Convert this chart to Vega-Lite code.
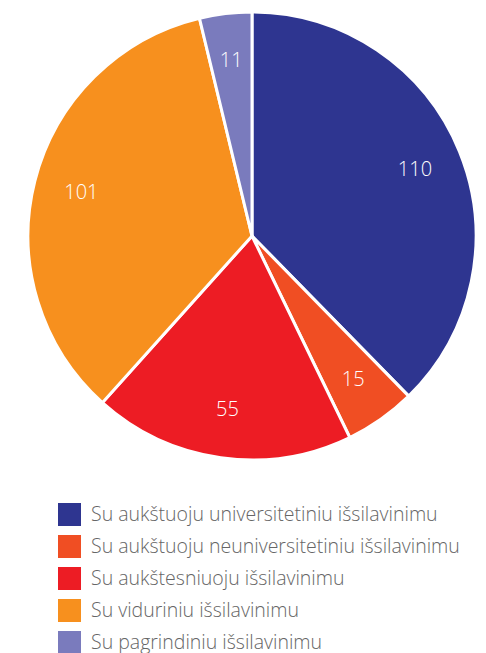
{
  "$schema": "https://vega.github.io/schema/vega-lite/v6.json",
  "width": 504,
  "height": 472,
  "padding": 0,
  "autosize": "pad",
  "background": "white",
  "data": {"values": [
    {"cat": "Su aukštuoju universitetiniu išsilavinimu", "value": 110, "ord": 1},
    {"cat": "Su aukštuoju neuniversitetiniu išsilavinimu", "value": 15, "ord": 2},
    {"cat": "Su aukštesniuoju išsilavinimu", "value": 55, "ord": 3},
    {"cat": "Su viduriniu išsilavinimu", "value": 101, "ord": 4},
    {"cat": "Su pagrindiniu išsilavinimu", "value": 11, "ord": 5}
  ]},
  "encoding": {
    "theta": {"field": "value", "type": "quantitative", "stack": true},
    "order": {"field": "ord", "type": "quantitative"}
  },
  "view": {"stroke": null},
  "layer": [
    {
      "mark": {"type": "arc", "outerRadius": 224, "stroke": "white", "strokeWidth": 3},
      "encoding": {
        "color": {
          "field": "cat", "type": "nominal",
          "scale": {
            "domain": ["Su aukštuoju universitetiniu išsilavinimu", "Su aukštuoju neuniversitetiniu išsilavinimu", "Su aukštesniuoju išsilavinimu", "Su viduriniu išsilavinimu", "Su pagrindiniu išsilavinimu"],
            "range": ["#2e3590", "#f04e23", "#ed1c24", "#f7901e", "#7a7bbd"]
          },
          "legend": {
            "title": null,
            "orient": "none",
            "legendX": 58,
            "legendY": 503,
            "direction": "vertical",
            "symbolType": "square",
            "symbolSize": 529,
            "symbolStrokeWidth": 0,
            "symbolOpacity": 1,
            "labelFont": "Open Sans",
            "labelFontSize": 19.5,
            "labelFontWeight": 300,
            "labelColor": "#666666",
            "labelOffset": 10,
            "rowPadding": 9,
            "labelLimit": 500
          }
        }
      }
    },
    {
      "mark": {"type": "text", "radius": 176, "fill": "white", "font": "Open Sans", "fontSize": 20, "fontWeight": 300},
      "encoding": {
        "text": {"field": "value", "type": "quantitative"}
      }
    }
  ]
}
